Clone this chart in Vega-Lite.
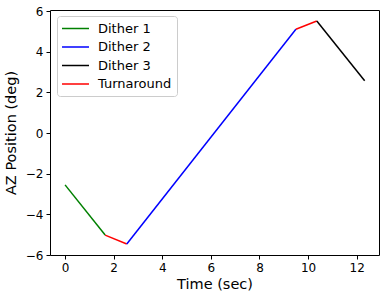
{
  "$schema": "https://vega.github.io/schema/vega-lite/v6.json",
  "autosize": {"type": "none"},
  "width": 329,
  "height": 245,
  "padding": {"left": 50, "top": 10, "right": 7, "bottom": 44},
  "config": {
    "font": "DejaVu Sans",
    "view": {"stroke": "#000000", "strokeWidth": 1}
  },
  "data": {
    "values": [
      {"seg": "a", "series": "Dither 1", "t": 0, "az": -2.55},
      {"seg": "a", "series": "Dither 1", "t": 1.65, "az": -5.02},
      {"seg": "b", "series": "Turnaround", "t": 1.65, "az": -5.02},
      {"seg": "b", "series": "Turnaround", "t": 2.54, "az": -5.46},
      {"seg": "c", "series": "Dither 2", "t": 2.54, "az": -5.46},
      {"seg": "c", "series": "Dither 2", "t": 9.5, "az": 5.1},
      {"seg": "d", "series": "Turnaround", "t": 9.5, "az": 5.1},
      {"seg": "d", "series": "Turnaround", "t": 10.36, "az": 5.51},
      {"seg": "e", "series": "Dither 3", "t": 10.36, "az": 5.51},
      {"seg": "e", "series": "Dither 3", "t": 12.33, "az": 2.57}
    ]
  },
  "mark": {"type": "line", "strokeWidth": 1.5, "clip": true},
  "encoding": {
    "x": {
      "field": "t", "type": "quantitative",
      "scale": {"domain": [-0.62, 12.92], "nice": false, "zero": false},
      "axis": {
        "title": "Time (sec)", "titleFontSize": 14.5, "titleFontWeight": "normal", "titleColor": "#000000",
        "values": [0, 2, 4, 6, 8, 10, 12], "labelFontSize": 12, "labelColor": "#000000",
        "grid": false, "domain": false, "tickColor": "#000000", "tickSize": 4, "labelPadding": 3, "titlePadding": 4
      }
    },
    "y": {
      "field": "az", "type": "quantitative",
      "scale": {"domain": [-6.0, 6.05], "nice": false, "zero": false},
      "axis": {
        "title": "AZ Position (deg)", "titleFontSize": 14.5, "titleFontWeight": "normal", "titleColor": "#000000",
        "values": [-6, -4, -2, 0, 2, 4, 6], "labelFontSize": 12, "labelColor": "#000000",
        "grid": false, "domain": false, "tickColor": "#000000", "tickSize": 4, "labelPadding": 3, "titlePadding": 7
      }
    },
    "color": {
      "field": "series", "type": "nominal",
      "scale": {"domain": ["Dither 1", "Dither 2", "Dither 3", "Turnaround"], "range": ["#008000", "#0000ff", "#000000", "#ff0000"]},
      "legend": {
        "title": null, "orient": "none", "legendX": 7, "legendY": 6,
        "symbolType": "M-2,0L2,0", "symbolSize": 182, "symbolStrokeWidth": 1.5, "symbolOffset": 6,
        "labelFontSize": 13, "labelColor": "#000000", "labelOffset": 15, "rowPadding": 3.5,
        "strokeColor": "#cccccc", "fillColor": "#ffffff", "padding": 5, "cornerRadius": 3
      }
    },
    "detail": {"field": "seg", "type": "nominal"}
  }
}
